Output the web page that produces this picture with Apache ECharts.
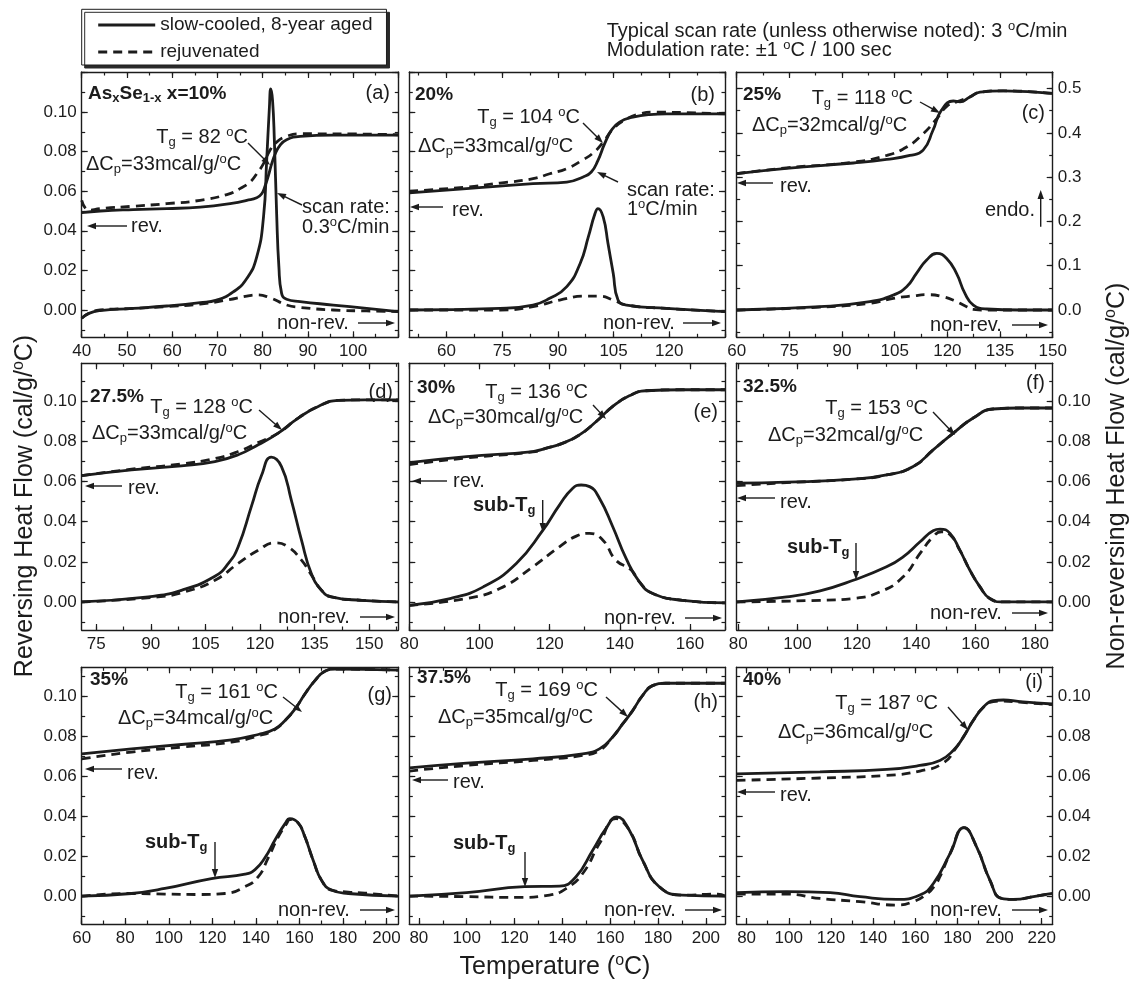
<!DOCTYPE html>
<html>
<head>
<meta charset="utf-8">
<script src="https://cdn.jsdelivr.net/npm/echarts@6/dist/echarts.min.js"></script>
<style>
  html, body { margin: 0; padding: 0; background: #fff; }
  #chart { width: 1133px; height: 981px; }
</style>
</head>
<body>
<div id="chart"></div>
<script>
// Heat flow (cal/g/°C) against temperature (°C), [T, value] pairs.
// rev = reversing heat flow, nonrev = non-reversing heat flow.

// (a) x = 10%
const a_rev_aged = [[40,0.0492],[44.1,0.0500],[51.4,0.0507],[58.8,0.0512],[66.2,0.0520],[73.5,0.0540],[76.5,0.0554],[78.7,0.0567],[79.8,0.0587],[80.6,0.0630],[81.3,0.0680],[82.0,0.0738],[82.8,0.0789],[83.8,0.0830],[85.3,0.0860],[88.3,0.0877],[95.6,0.0883],[110,0.0883]];
const a_rev_rejuv = [[40,0.0554],[41.6,0.0504],[44.1,0.0512],[51.4,0.0524],[58.8,0.0537],[66.2,0.0554],[72.1,0.0583],[75.0,0.0613],[77.2,0.0646],[78.7,0.0688],[80.2,0.0739],[81.6,0.0806],[83.1,0.0848],[85.3,0.0877],[88.3,0.0890],[100,0.0889],[110,0.0885]];
const a_nonrev_aged = [[40,-0.0042],[41.6,-0.0017],[44.1,-0.0003],[51.4,0.0008],[58.8,0.0020],[66.2,0.0037],[69.8,0.0050],[73.5,0.0091],[76.5,0.0159],[78.7,0.0268],[80.2,0.0470],[80.9,0.0756],[81.5,0.1024],[81.8,0.1117],[82.2,0.1058],[82.6,0.0856],[83.1,0.0487],[83.6,0.0218],[84.2,0.0084],[85.3,0.0054],[88.3,0.0042],[95.6,0.0025],[103,0.0008],[110,-0.0008]];
const a_nonrev_rejuv = [[40,-0.0042],[41.6,-0.0017],[44.1,0.0000],[51.4,0.0008],[58.8,0.0017],[66.2,0.0030],[72.1,0.0050],[76.5,0.0070],[78.7,0.0076],[81.6,0.0062],[85.3,0.0025],[88.3,0.0013],[95.6,0.0000],[103,-0.0005],[110,-0.0008]];

// (b) x = 20%
const b_rev_aged = [[50,0.0591],[65.4,0.0613],[83.3,0.0638],[92.4,0.0646],[96.8,0.0672],[99.0,0.0697],[100.8,0.0756],[102.6,0.0840],[104.4,0.0907],[106.6,0.0949],[110.2,0.0974],[114.7,0.0987],[119.2,0.0990],[135,0.0990]];
const b_rev_rejuv = [[50,0.0600],[65.4,0.0621],[74.4,0.0641],[83.3,0.0663],[87.8,0.0688],[92.4,0.0714],[96.8,0.0759],[99.5,0.0793],[102.2,0.0848],[104.9,0.0915],[108.5,0.0965],[112.0,0.0990],[115.6,0.0999],[135,0.0990]];
const b_nonrev_aged = [[50,0.0000],[74.4,0.0008],[83.3,0.0025],[87.8,0.0059],[92.4,0.0118],[96.0,0.0235],[98.2,0.0369],[100.0,0.0487],[100.8,0.0512],[102.2,0.0470],[103.5,0.0336],[104.9,0.0185],[106.2,0.0050],[108.5,0.0025],[119.2,0.0008],[135,-0.0008]];
const b_nonrev_rejuv = [[50,0.0000],[74.4,0.0000],[83.3,0.0017],[90.5,0.0050],[97.7,0.0070],[101.3,0.0070],[104.9,0.0050],[108.5,0.0025],[119.2,0.0008],[135,-0.0008]];

// (c) x = 25%  (values on the 0–0.5 scale)
const c_rev_aged = [[60,0.308],[74.2,0.320],[93.2,0.332],[102.7,0.340],[109.3,0.349],[113.1,0.361],[115.9,0.406],[118.3,0.451],[121.7,0.472],[123.6,0.470],[126.4,0.481],[129.3,0.492],[135.9,0.495],[150,0.489]];
const c_rev_rejuv = [[60,0.308],[74.2,0.321],[93.2,0.334],[102.7,0.349],[108.4,0.368],[113.1,0.398],[117.0,0.432],[119.8,0.460],[122.6,0.470],[126.4,0.481],[129.3,0.492],[135.9,0.495],[150,0.489]];
const c_nonrev_aged = [[60,0.000],[83.7,0.0075],[97.9,0.0188],[104.6,0.0338],[108.4,0.0526],[111.2,0.0827],[114.1,0.1128],[117.0,0.128],[119.8,0.1165],[122.6,0.0827],[125.0,0.0376],[127.4,0.0113],[131.2,0.0023],[140.6,0.000],[150,0.000]];
const c_nonrev_rejuv = [[60,0.000],[83.7,0.0065],[97.9,0.015],[104.6,0.0263],[110.3,0.032],[114.1,0.0346],[118.8,0.030],[122.6,0.0188],[125.5,0.0075],[127.4,0.0015],[131.2,0.000],[150,0.000]];

// (d) x = 27.5%
const d_rev_aged = [[71,0.0630],[84.7,0.0659],[98.4,0.0679],[107.6,0.0700],[114,0.0734],[119.5,0.0784],[125,0.0842],[130.5,0.0917],[136,0.0975],[141.5,0.1005],[148.8,0.1008],[158,0.1008]];
const d_rev_rejuv = [[71,0.0630],[84.7,0.0662],[98.4,0.0688],[107.6,0.0715],[114,0.0750],[119.5,0.0795],[125,0.0842],[130.5,0.0917],[136,0.0975],[141.5,0.1005],[148.8,0.1008],[158,0.1008]];
const d_nonrev_aged = [[71,0.0000],[89.3,0.0025],[98.4,0.0058],[107.6,0.0128],[111.3,0.0192],[114,0.0275],[117.7,0.0480],[120.4,0.0630],[123.1,0.0722],[125.9,0.0675],[128.6,0.0508],[131.4,0.0308],[134.1,0.0142],[136.9,0.0058],[139.6,0.0025],[148,0.0008],[158,0.0000]];
const d_nonrev_rejuv = [[71,0.0000],[92,0.0025],[99.3,0.0050],[107.6,0.0108],[114,0.0192],[119.5,0.0258],[124.1,0.0295],[127.7,0.0275],[131.4,0.0208],[134.1,0.0135],[136.9,0.0058],[139.6,0.0025],[148,0.0008],[158,0.0000]];

// (e) x = 30%
const e_rev_aged = [[80,0.0695],[96.3,0.0725],[115.2,0.0750],[119.1,0.0767],[123.8,0.0792],[128.5,0.0833],[133.3,0.0900],[138,0.0975],[142.7,0.1028],[147.4,0.1053],[157.9,0.1058],[170,0.1058]];
const e_rev_rejuv = [[80,0.0685],[96.3,0.0718],[115.2,0.0748],[119.1,0.0767],[123.8,0.0792],[128.5,0.0833],[133.3,0.0900],[138,0.0975],[142.7,0.1028],[147.4,0.1053],[157.9,0.1058],[170,0.1058]];
const e_nonrev_aged = [[80,-0.0017],[91.6,0.0017],[101.1,0.0075],[110.5,0.0192],[118.1,0.0358],[122.8,0.0483],[126.6,0.0567],[129,0.0583],[131.4,0.0575],[134.2,0.0517],[138,0.0375],[141.8,0.0217],[145.6,0.0100],[149.4,0.0042],[157.9,0.0008],[170,-0.0005]];
const e_nonrev_rejuv = [[80,-0.0017],[96.3,0.0017],[105.8,0.0067],[115.2,0.0175],[122.8,0.0275],[127.6,0.0328],[131.4,0.0342],[135.2,0.0308],[138.9,0.0208],[143.2,0.0160],[145.6,0.0100],[149.4,0.0042],[157.9,0.0008],[170,-0.0005]];

// (f) x = 32.5%
const f_rev_aged = [[79.5,0.0592],[96.4,0.0597],[118.8,0.0612],[130,0.0633],[139,0.0675],[145.7,0.0758],[152.5,0.0842],[159.2,0.0917],[165.9,0.0962],[175,0.0967],[186,0.0967]];
const f_rev_rejuv = [[79.5,0.0580],[88,0.0588],[96.4,0.0595],[118.8,0.0612],[130,0.0633],[139,0.0675],[145.7,0.0758],[152.5,0.0842],[159.2,0.0917],[165.9,0.0962],[175,0.0967],[186,0.0967]];
const f_nonrev_aged = [[79.5,0.0000],[96.4,0.0025],[107.6,0.0055],[118.8,0.0108],[130,0.0175],[135.6,0.0225],[141.3,0.0300],[145.7,0.0355],[148,0.0363],[151.4,0.0342],[154.7,0.0258],[158.1,0.0158],[161.5,0.0075],[164.8,0.0017],[169.3,0.0000],[186,0.0000]];
const f_nonrev_rejuv = [[79.5,0.0000],[107.6,0.0008],[118.8,0.0017],[127.8,0.0050],[135.6,0.0125],[141.3,0.0242],[145.7,0.0325],[148.5,0.0350],[151.4,0.0335],[154.7,0.0258],[158.1,0.0158],[161.5,0.0075],[164.8,0.0017],[169.3,0.0000],[186,0.0000]];

// (g) x = 35%
const g_rev_aged = [[60,0.0713],[82.9,0.0738],[105.9,0.0760],[128.8,0.0783],[141.1,0.0810],[148.7,0.0838],[153.4,0.0880],[158,0.0938],[162.5,0.1013],[167.1,0.1080],[171.7,0.1127],[176.3,0.1138],[205.3,0.1133]];
const g_rev_rejuv = [[60,0.0688],[82.9,0.0722],[105.9,0.0747],[128.8,0.0772],[141.1,0.0803],[148.7,0.0835],[153.4,0.0880],[158,0.0938],[162.5,0.1013],[167.1,0.1080],[171.7,0.1127],[176.3,0.1138],[205.3,0.1133]];
const g_nonrev_aged = [[60,0.0000],[82.9,0.0013],[98.2,0.0038],[119.6,0.0088],[135,0.0110],[139.6,0.0133],[144.2,0.0193],[148.7,0.0280],[153.4,0.0363],[155.6,0.0388],[159.4,0.0367],[162.5,0.0297],[166.3,0.0180],[170.1,0.0080],[174.7,0.0030],[182.4,0.0013],[205.3,0.0000]];
const g_nonrev_rejuv = [[60,0.0000],[82.9,0.0013],[98.2,0.0010],[113.5,0.0008],[125.8,0.0013],[135,0.0047],[141.1,0.0097],[145.7,0.0193],[150.3,0.0297],[154.1,0.0363],[155.6,0.0383],[159.4,0.0367],[162.5,0.0297],[166.3,0.0180],[170.1,0.0080],[174.7,0.0030],[182.4,0.0020],[190,0.0015],[205.3,0.0000]];

// (h) x = 37.5%
const h_rev_aged = [[76,0.0643],[99.9,0.0667],[127.7,0.0688],[148.5,0.0713],[155.5,0.0738],[161,0.0797],[165.2,0.0863],[169.4,0.0930],[173.5,0.1005],[177.7,0.1055],[183.2,0.1067],[208,0.1067]];
const h_rev_rejuv = [[76,0.0627],[99.9,0.0655],[127.7,0.0680],[148.5,0.0705],[155.5,0.0730],[161,0.0797],[165.2,0.0863],[169.4,0.0930],[173.5,0.1005],[177.7,0.1055],[183.2,0.1067],[208,0.1067]];
const h_nonrev_aged = [[76,0.0000],[99.9,0.0017],[124.2,0.0047],[138.8,0.0050],[145.7,0.0097],[152.7,0.0230],[158.2,0.0338],[162.7,0.0397],[168,0.0330],[173.5,0.0180],[180.5,0.0047],[190.2,0.0005],[208,0.0000]];
const h_nonrev_rejuv = [[76,0.0000],[99.9,-0.0003],[120.7,-0.0007],[134.6,0.0005],[141.6,0.0038],[148.5,0.0113],[155.5,0.0263],[162.4,0.0388],[168,0.0330],[173.5,0.0180],[180.5,0.0047],[190.2,0.0005],[205,0.0010],[208,0.0000]];

// (i) x = 40%
const i_rev_aged = [[75.3,0.0613],[114.8,0.0623],[146.5,0.0635],[162.2,0.0655],[171.7,0.0680],[178,0.0730],[182.8,0.0797],[187.5,0.0880],[192.3,0.0947],[197,0.0980],[201.8,0.0983],[209.6,0.0975],[225.1,0.0963]];
const i_rev_rejuv = [[75.3,0.0580],[114.8,0.0592],[146.5,0.0605],[162.2,0.0627],[173.3,0.0667],[179.6,0.0747],[182.8,0.0797],[187.5,0.0880],[192.3,0.0947],[197,0.0975],[201.8,0.0978],[209.6,0.0972],[225.1,0.0960]];
const i_nonrev_aged = [[75.3,0.0017],[99,0.0022],[119.6,0.0017],[133.8,-0.0003],[151.2,-0.0017],[162.2,0.0005],[168.6,0.0063],[176.5,0.0213],[183.1,0.0343],[189.1,0.0247],[195.4,0.0080],[200.9,-0.0012],[206.5,-0.0017],[217.5,0.0000],[225.1,0.0013]];
const i_nonrev_rejuv = [[75.3,0.0010],[99,0.0010],[114.8,-0.0012],[133.8,-0.0028],[151.2,-0.0045],[159.1,-0.0028],[165.4,0.0010],[169.4,0.0055],[171.7,0.0097],[176.5,0.0213],[183.1,0.0343],[189.1,0.0247],[195.4,0.0080],[200.9,-0.0012],[206.5,-0.0017],[217.5,0.0000],[225.1,0.0013]];

// Tick labels
const xLabels_a = [40, 50, 60, 70, 80, 90, 100];
const xLabels_b = [60, 75, 90, 105, 120];
const xLabels_c = [60, 75, 90, 105, 120, 135, 150];
const xLabels_d = [75, 90, 105, 120, 135, 150];
const xLabels_e = [80, 100, 120, 140, 160];
const xLabels_f = [80, 100, 120, 140, 160, 180];
const xLabels_g = [60, 80, 100, 120, 140, 160, 180, 200];
const xLabels_h = [80, 100, 120, 140, 160, 180, 200];
const xLabels_i = [80, 100, 120, 140, 160, 180, 200, 220];
const yLabels_heat = [0, 0.02, 0.04, 0.06, 0.08, 0.10];
const yLabels_c = [0, 0.1, 0.2, 0.3, 0.4, 0.5];

const NAME_AGED = 'slow-cooled, 8-year aged';
const NAME_REJUV = 'rejuvenated';

// ---------------------------------------------------------------------------
const FONT = '"Liberation Sans", Arial, Helvetica, sans-serif';
const INK = '#1c1c1c';

const COLS = [[81.7, 398.3], [409.3, 725], [736.7, 1052.7]];
const ROWS = [[72, 337.3], [363.3, 630], [667.3, 924]];

const panels = [
  { col: 0, row: 0, x: [40, 110],     xAnchor: 40, xStep: 10, xLabels: xLabels_a, y: [-0.0138, 0.1202], yStep: 0.02, yLabels: yLabels_heat, side: 'left',  dp: 2, curves: [a_rev_aged, a_rev_rejuv, a_nonrev_aged, a_nonrev_rejuv] },
  { col: 1, row: 0, x: [50, 135],     xAnchor: 60, xStep: 15, xLabels: xLabels_b, y: [-0.0138, 0.1202], yStep: 0.02, yLabels: null,         side: null,    dp: 2, curves: [b_rev_aged, b_rev_rejuv, b_nonrev_aged, b_nonrev_rejuv] },
  { col: 2, row: 0, x: [60, 150],     xAnchor: 60, xStep: 15, xLabels: xLabels_c, y: [-0.0616, 0.5375], yStep: 0.1,  yLabels: yLabels_c,    side: 'right', dp: 1, curves: [c_rev_aged, c_rev_rejuv, c_nonrev_aged, c_nonrev_rejuv] },
  { col: 0, row: 1, x: [71, 158],     xAnchor: 75, xStep: 15, xLabels: xLabels_d, y: [-0.014, 0.119],   yStep: 0.02, yLabels: yLabels_heat, side: 'left',  dp: 2, curves: [d_rev_aged, d_rev_rejuv, d_nonrev_aged, d_nonrev_rejuv] },
  { col: 1, row: 1, x: [80, 170],     xAnchor: 80, xStep: 20, xLabels: xLabels_e, y: [-0.014, 0.119],   yStep: 0.02, yLabels: null,         side: null,    dp: 2, curves: [e_rev_aged, e_rev_rejuv, e_nonrev_aged, e_nonrev_rejuv] },
  { col: 2, row: 1, x: [79.5, 186],   xAnchor: 80, xStep: 20, xLabels: xLabels_f, y: [-0.014, 0.119],   yStep: 0.02, yLabels: yLabels_heat, side: 'right', dp: 2, curves: [f_rev_aged, f_rev_rejuv, f_nonrev_aged, f_nonrev_rejuv] },
  { col: 0, row: 2, x: [60, 205.4],   xAnchor: 60, xStep: 20, xLabels: xLabels_g, y: [-0.014, 0.1147],  yStep: 0.02, yLabels: yLabels_heat, side: 'left',  dp: 2, curves: [g_rev_aged, g_rev_rejuv, g_nonrev_aged, g_nonrev_rejuv] },
  { col: 1, row: 2, x: [76, 208],     xAnchor: 80, xStep: 20, xLabels: xLabels_h, y: [-0.014, 0.1147],  yStep: 0.02, yLabels: null,         side: null,    dp: 2, curves: [h_rev_aged, h_rev_rejuv, h_nonrev_aged, h_nonrev_rejuv] },
  { col: 2, row: 2, x: [75.3, 225.2], xAnchor: 80, xStep: 20, xLabels: xLabels_i, y: [-0.014, 0.1147],  yStep: 0.02, yLabels: yLabels_heat, side: 'right', dp: 2, curves: [i_rev_aged, i_rev_rejuv, i_nonrev_aged, i_nonrev_rejuv] }
];

// evenly spaced tick values that include `anchor`, limited to [min, max]
function ticks(min, max, anchor, step) {
  const out = [];
  let v = anchor - Math.floor((anchor - min) / step + 1e-9) * step;
  for (; v <= max + 1e-9; v += step) out.push(Math.round(v * 1e6) / 1e6);
  return out;
}

function axis(gridIndex, position, range, tickVals, tickLen, opts) {
  opts = opts || {};
  return {
    type: 'value', gridIndex: gridIndex, position: position,
    min: range[0], max: range[1],
    axisLine: { show: opts.line !== false, onZero: false, lineStyle: { color: INK, width: 1.4 } },
    axisTick: { show: true, inside: true, length: tickLen, customValues: tickVals, lineStyle: { color: INK, width: 1.2 } },
    axisLabel: opts.labels ? {
      show: true, customValues: opts.labels, formatter: opts.fmt,
      fontSize: 17, fontFamily: FONT, color: INK, margin: opts.margin || 6
    } : { show: false },
    splitLine: { show: false }, splitArea: { show: false }, minorTick: { show: false },
    silent: true
  };
}

const grid = [], xAxis = [], yAxis = [], series = [];

panels.forEach(function (p) {
  const l = COLS[p.col][0], r = COLS[p.col][1], t = ROWS[p.row][0], b = ROWS[p.row][1];
  const rect = { left: l, top: t, width: r - l, height: b - t, containLabel: false, outerBoundsMode: 'none', show: false };
  const gMain = grid.length;
  grid.push(Object.assign({}, rect));
  const gMinor = grid.length;
  grid.push(Object.assign({}, rect));

  const xMaj = ticks(p.x[0], p.x[1], p.xAnchor, p.xStep);
  const xMin = ticks(p.x[0], p.x[1], p.xAnchor, p.xStep / 2);
  const yMaj = ticks(p.y[0], p.y[1], 0, p.yStep);
  const yMin = ticks(p.y[0], p.y[1], 0, p.yStep / 2);
  const xFmt = function (v) { return String(Math.round(v)); };
  const yFmt = function (v) { return v.toFixed(p.dp); };

  const xi = xAxis.length;
  xAxis.push(axis(gMain, 'bottom', p.x, xMaj, 6, { labels: p.xLabels, fmt: xFmt, margin: 6 }));
  xAxis.push(axis(gMain, 'top', p.x, xMaj, 6));
  xAxis.push(axis(gMinor, 'bottom', p.x, xMin, 3.5, { line: false }));
  xAxis.push(axis(gMinor, 'top', p.x, xMin, 3.5, { line: false }));

  const yi = yAxis.length;
  yAxis.push(axis(gMain, 'left', p.y, yMaj, 6, p.side === 'left' ? { labels: p.yLabels, fmt: yFmt, margin: 5 } : {}));
  yAxis.push(axis(gMain, 'right', p.y, yMaj, 6, p.side === 'right' ? { labels: p.yLabels, fmt: yFmt, margin: 5 } : {}));
  yAxis.push(axis(gMinor, 'left', p.y, yMin, 3.5, { line: false }));
  yAxis.push(axis(gMinor, 'right', p.y, yMin, 3.5, { line: false }));

  p.curves.forEach(function (data, k) {
    const dashed = k % 2 === 1;
    series.push({
      type: 'line', name: dashed ? NAME_REJUV : NAME_AGED,
      xAxisIndex: xi, yAxisIndex: yi, data: data,
      symbol: 'none', showSymbol: false, smooth: 0.5,
      clip: true, silent: true, z: dashed ? 3 : 2,
      itemStyle: { color: INK },
      lineStyle: { color: INK, width: 2.8, type: dashed ? [9, 6] : 'solid', join: 'round' },
      emphasis: { disabled: true }
    });
  });
});

// ---------------------------------------------------------------------------
// annotation helpers
function rich(size, weight) {
  return {
    sub: { fontSize: Math.round(size * 0.66), lineHeight: Math.round(size * 0.2), verticalAlign: 'bottom', fontFamily: FONT, fontWeight: weight, fill: INK },
    sup: { fontSize: Math.round(size * 0.64), lineHeight: Math.round(size * 0.62), verticalAlign: 'top', fontFamily: FONT, fontWeight: weight, fill: INK }
  };
}
function label(x, y, text, o) {
  o = o || {};
  const size = o.size || 20, weight = o.weight || 'normal', align = o.align || 'left';
  return {
    type: 'text', x: x, y: y, rotation: o.rotation || 0, z: 100, silent: true,
    style: {
      text: text, x: 0, y: 0, fill: INK, fontSize: size, fontFamily: FONT, fontWeight: weight,
      lineHeight: size + 3, align: align, verticalAlign: 'middle',
      textAlign: align, textVerticalAlign: 'middle', rich: rich(size, weight)
    }
  };
}
function arrow(x1, y1, x2, y2) {
  const dx = x2 - x1, dy = y2 - y1, L = Math.hypot(dx, dy), ux = dx / L, uy = dy / L;
  const hl = 9, hw = 3.2, bx = x2 - ux * hl, by = y2 - uy * hl;
  return [
    { type: 'line', z: 100, silent: true, shape: { x1: x1, y1: y1, x2: bx + ux, y2: by + uy }, style: { stroke: INK, lineWidth: 1.4 } },
    { type: 'polygon', z: 100, silent: true, shape: { points: [[x2, y2], [bx - uy * hw, by + ux * hw], [bx + uy * hw, by - ux * hw]] }, style: { fill: INK } }
  ];
}
const TG = function (t) { return 'T{sub|g} = ' + t + ' {sup|o}C'; };
const DCP = function (c) { return '\u0394C{sub|p}=' + c + 'mcal/g/{sup|o}C'; };
const SUBTG = 'sub-T{sub|g}';

const notes = [].concat(
  // header
  label(606.7, 31.7, 'Typical scan rate (unless otherwise noted): 3 {sup|o}C/min', { size: 20 }),
  label(606.7, 50.5, 'Modulation rate: \u00b11 {sup|o}C / 100 sec', { size: 20 }),
  // shared axis titles
  label(555, 967, 'Temperature ({sup|o}C)', { size: 25, align: 'center' }),
  label(25, 506, 'Reversing Heat Flow (cal/g/{sup|o}C)', { size: 25, align: 'center', rotation: Math.PI / 2 }),
  label(1117, 476, 'Non-reversing Heat Flow (cal/g/{sup|o}C)', { size: 25, align: 'center', rotation: Math.PI / 2 }),

  // (a)
  label(88, 94, 'As{sub|x}Se{sub|1-x} x=10%', { size: 19, weight: 'bold' }),
  label(390, 93, '(a)', { size: 20, align: 'right' }),
  label(248, 137, TG(82), { align: 'right' }),
  label(86, 164, DCP(33)),
  arrow(248, 143, 270, 165),
  label(302, 207, 'scan rate:'),
  label(302, 227, '0.3{sup|o}C/min'),
  arrow(302, 205, 277, 193),
  label(131, 226, 'rev.'), arrow(127, 226, 87, 226),
  label(277, 323, 'non-rev.'), arrow(358, 323, 395, 323),

  // (b)
  label(415, 95, '20%', { size: 19, weight: 'bold' }),
  label(715, 95, '(b)', { size: 20, align: 'right' }),
  label(580, 117, TG(104), { align: 'right' }),
  label(418, 146, DCP(33)),
  arrow(583, 123, 603, 143),
  label(627, 190, 'scan rate:'),
  label(627, 209, '1{sup|o}C/min'),
  arrow(618, 182, 597, 172),
  label(452, 210, 'rev.'), arrow(443, 207, 410, 207),
  label(603, 323, 'non-rev.'), arrow(683, 323, 721, 323),

  // (c)
  label(743, 95, '25%', { size: 19, weight: 'bold' }),
  label(913, 98, TG(118), { align: 'right' }),
  label(752, 125, DCP(32)),
  arrow(920, 102, 940, 113),
  label(1045, 113, '(c)', { size: 20, align: 'right' }),
  label(780, 186, 'rev.'), arrow(773, 183, 737, 183),
  label(1035, 210, 'endo.', { align: 'right' }), arrow(1040.7, 226.7, 1040.7, 190),
  label(930, 325, 'non-rev.'), arrow(1012, 325, 1048, 325),

  // (d)
  label(90, 397, '27.5%', { size: 19, weight: 'bold' }),
  label(393, 392, '(d)', { size: 20, align: 'right' }),
  label(253, 407, TG(128), { align: 'right' }),
  label(92, 433, DCP(33)),
  arrow(259, 410, 282, 430),
  label(128, 488, 'rev.'), arrow(122, 486, 85, 486),
  label(278, 617, 'non-rev.'), arrow(360, 617, 395, 617),

  // (e)
  label(417, 388, '30%', { size: 19, weight: 'bold' }),
  label(588, 392, TG(136), { align: 'right' }),
  label(428, 417, DCP(30)),
  arrow(593, 405, 606, 419),
  label(718, 412, '(e)', { size: 20, align: 'right' }),
  label(453, 481, 'rev.'), arrow(447, 481, 412, 481),
  label(473, 505, SUBTG, { weight: 'bold' }), arrow(542.7, 500, 542.7, 532),
  label(604, 618, 'non-rev.'), arrow(685, 618, 722, 618),

  // (f)
  label(743, 387, '32.5%', { size: 19, weight: 'bold' }),
  label(1045, 383, '(f)', { size: 20, align: 'right' }),
  label(928, 408, TG(153), { align: 'right' }),
  label(768, 435, DCP(32)),
  arrow(933, 412, 955, 435),
  label(780, 502, 'rev.'), arrow(775, 498, 737, 498),
  label(787, 547, SUBTG, { weight: 'bold' }), arrow(856, 543, 856, 580),
  label(930, 613, 'non-rev.'), arrow(1012, 613, 1048, 613),

  // (g)
  label(90, 680, '35%', { size: 19, weight: 'bold' }),
  label(392, 695, '(g)', { size: 20, align: 'right' }),
  label(278, 692, TG(161), { align: 'right' }),
  label(118, 718, DCP(34)),
  arrow(283, 697, 302, 712),
  label(127, 773, 'rev.'), arrow(122, 769, 85, 769),
  label(145, 842, SUBTG, { weight: 'bold' }), arrow(215, 842, 215, 878),
  label(278, 910, 'non-rev.'), arrow(360, 910, 395, 910),

  // (h)
  label(417, 678, '37.5%', { size: 19, weight: 'bold' }),
  label(598, 690, TG(169), { align: 'right' }),
  label(438, 717, DCP(35)),
  arrow(606, 697, 628, 717),
  label(718, 702, '(h)', { size: 20, align: 'right' }),
  label(453, 782, 'rev.'), arrow(448, 780, 412, 780),
  label(453, 843, SUBTG, { weight: 'bold' }), arrow(525, 852, 525, 887),
  label(604, 910, 'non-rev.'), arrow(685, 910, 722, 910),

  // (i)
  label(743, 680, '40%', { size: 19, weight: 'bold' }),
  label(1043, 682, '(i)', { size: 20, align: 'right' }),
  label(938, 703, TG(187), { align: 'right' }),
  label(778, 732, DCP(36)),
  arrow(948, 707, 968, 730),
  label(780, 795, 'rev.'), arrow(775, 792, 737, 792),
  label(930, 910, 'non-rev.'), arrow(1012, 910, 1048, 910)
);

const chart = echarts.init(document.getElementById('chart'), null, { renderer: 'canvas' });
chart.setOption({
  animation: false,
  backgroundColor: '#ffffff',
  textStyle: { fontFamily: FONT },
  legend: {
    data: [NAME_AGED, NAME_REJUV], orient: 'vertical', left: 81.7, top: 9.3,
    itemWidth: 57, itemHeight: 18, itemGap: 7, padding: [5.7, 14, 3, 15],
    backgroundColor: '#ffffff', borderColor: INK, borderWidth: 1, borderRadius: 0,
    shadowColor: '#2a2a2a', shadowBlur: 0, shadowOffsetX: 3, shadowOffsetY: 3,
    textStyle: { fontSize: 19, fontFamily: FONT, color: INK, lineHeight: 20 },
    itemStyle: { opacity: 0 }, lineStyle: { width: 3 },
    selectedMode: false
  },
  grid: grid,
  xAxis: xAxis,
  yAxis: yAxis,
  series: series,
  graphic: { elements: notes }
});
</script>
</body>
</html>
